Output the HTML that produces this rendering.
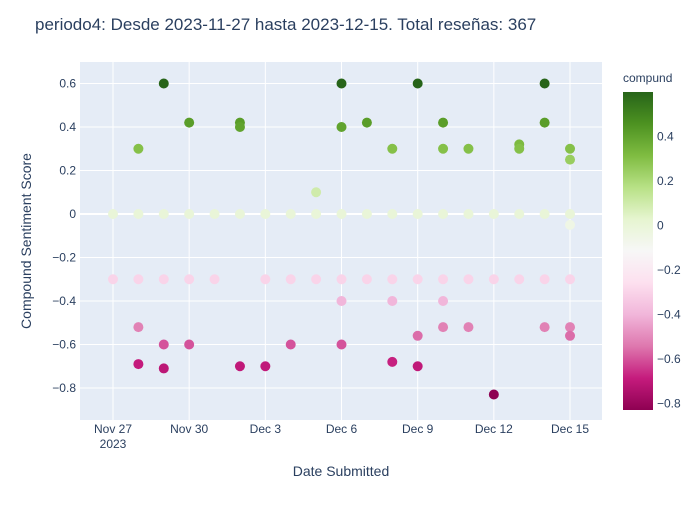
<!DOCTYPE html>
<html><head><meta charset="utf-8"><style>
body{margin:0;background:#fff;font-family:"Liberation Sans","Open Sans",sans-serif}
text{font-family:"Liberation Sans","Open Sans",sans-serif}
</style></head><body>
<svg id="c" width="700" height="500" xmlns="http://www.w3.org/2000/svg">
<defs><linearGradient id="g" x1="0" y1="1" x2="0" y2="0">
<stop offset="0" stop-color="#8e0152"/><stop offset="0.1" stop-color="#c51b7d"/><stop offset="0.2" stop-color="#de77ae"/><stop offset="0.3" stop-color="#f1b6da"/><stop offset="0.4" stop-color="#fde0ef"/><stop offset="0.5" stop-color="#f7f7f7"/><stop offset="0.6" stop-color="#e6f5d0"/><stop offset="0.7" stop-color="#b8e186"/><stop offset="0.8" stop-color="#7fbc41"/><stop offset="0.9" stop-color="#4d9221"/><stop offset="1" stop-color="#276419"/>
</linearGradient></defs>
<text x="35" y="30" font-size="17" fill="#2a3f5f">periodo4: Desde 2023-11-27 hasta 2023-12-15. Total reseñas: 367</text>
<rect x="80" y="62" width="522" height="358" fill="#e5ecf6"/>
<g id="grid"></g><g id="pts"></g>
<text x="0" y="0" transform="translate(31,241) rotate(-90)" text-anchor="middle" font-size="14" fill="#2a3f5f">Compound Sentiment Score</text>
<text x="341" y="476" text-anchor="middle" font-size="14" fill="#2a3f5f">Date Submitted</text>
<text x="623" y="82" font-size="12" fill="#2a3f5f">compund</text>
<rect x="623" y="92" width="30" height="318" fill="url(#g)"/>
<g id="cb"></g>
</svg>
<script>
const days=[0,0, 1,1,1,1,1, 2,2,2,2,2, 3,3,3,3, 4,4, 5,5,5,5, 6,6,6, 7,7,7, 8,8,8, 9,9,9,9,9,9, 10,10,10, 11,11,11,11,11, 12,12,12,12,12, 13,13,13,13,13,13, 14,14,14,14, 15,15,15, 16,16,16,16, 17,17,17,17,17, 18,18,18,18,18,18,18];
const scores=[0,-0.3, 0.3,0,-0.3,-0.52,-0.69, 0.6,0,-0.3,-0.6,-0.71, 0.42,0,-0.3,-0.6, 0,-0.3, 0.42,0.4,0,-0.7, 0,-0.3,-0.7, 0,-0.3,-0.6, 0.1,0,-0.3, 0.6,0.4,0,-0.3,-0.4,-0.6, 0.42,0,-0.3, 0.3,0,-0.3,-0.4,-0.68, 0.6,0,-0.3,-0.56,-0.7, 0.42,0.3,0,-0.3,-0.4,-0.52, 0.3,0,-0.3,-0.52, 0,-0.3,-0.83, 0.32,0.3,0,-0.3, 0.6,0.42,0,-0.3,-0.52, 0.3,0.25,0,-0.05,-0.3,-0.52,-0.56];
const yTicks=[0.6,0.4,0.2,0,-0.2,-0.4,-0.6,-0.8];
const xTickDays=[0,3,6,9,12,15,18];
const xTickLabels=["Nov 27","Nov 30","Dec 3","Dec 6","Dec 9","Dec 12","Dec 15"];
const cbTicks=[0.4,0.2,0,-0.2,-0.4,-0.6,-0.8];
const cmin=-0.83,cmax=0.6;
const X=d=>113+d*25.39, Y=v=>214-v*217.5;
const NS="http://www.w3.org/2000/svg";
function mk(t,a,p){const e=document.createElementNS(NS,t);for(const k in a)e.setAttribute(k,a[k]);p.appendChild(e);return e;}
const grid=document.getElementById('grid'),pts=document.getElementById('pts'),cb=document.getElementById('cb');
yTicks.forEach(v=>{
 const l=mk('line',{x1:80,x2:602,y1:Y(v),y2:Y(v),stroke:'#fff','stroke-width':v===0?2:1},grid);
 
 
 const t=mk('text',{x:76,y:Y(v)+4,'text-anchor':'end','font-size':12,fill:'#2a3f5f'},grid);t.textContent=v===0?'0':(v<0?'−':'')+Math.abs(v).toFixed(1);
 
 
});
xTickDays.forEach((d,i)=>{
 const l=mk('line',{x1:X(d),x2:X(d),y1:62,y2:420,stroke:'#fff'},grid);
 
 
 const t=mk('text',{x:X(d),y:433,'text-anchor':'middle','font-size':12,fill:'#2a3f5f'},grid);t.textContent=xTickLabels[i];
 
 
});
{const t=mk('text',{x:X(0),y:448,'text-anchor':'middle','font-size':12,fill:'#2a3f5f'},grid);t.textContent='2023';
 
 }
const stops=[[0,[142,1,82]],[0.1,[197,27,125]],[0.2,[222,119,174]],[0.3,[241,182,218]],[0.4,[253,224,239]],[0.5,[247,247,247]],[0.6,[230,245,208]],[0.7,[184,225,134]],[0.8,[127,188,65]],[0.9,[77,146,33]],[1,[39,100,25]]];
function col(v){let f=(v-cmin)/(cmax-cmin);f=Math.max(0,Math.min(1,f));for(let i=1;i<stops.length;i++){if(f<=stops[i][0]){const a=stops[i-1],b=stops[i],t=(f-a[0])/(b[0]-a[0]);return 'rgb('+a[1].map((c,j)=>Math.round(c+(b[1][j]-c)*t)).join(',')+')';}}return 'rgb(39,100,25)';}
days.forEach((d,i)=>{
 const c=mk('circle',{cx:X(d),cy:Y(scores[i]),r:5,fill:col(scores[i])},pts);
 
 
});
const CY=v=>410-(v-cmin)/(cmax-cmin)*318;
cbTicks.forEach(v=>{
 const t=mk('text',{x:657,y:CY(v)+4,'font-size':12,fill:'#2a3f5f'},cb);t.textContent=v===0?'0':(v<0?'−':'')+Math.abs(v).toFixed(1);
 
 
});
</script>
</body></html>
